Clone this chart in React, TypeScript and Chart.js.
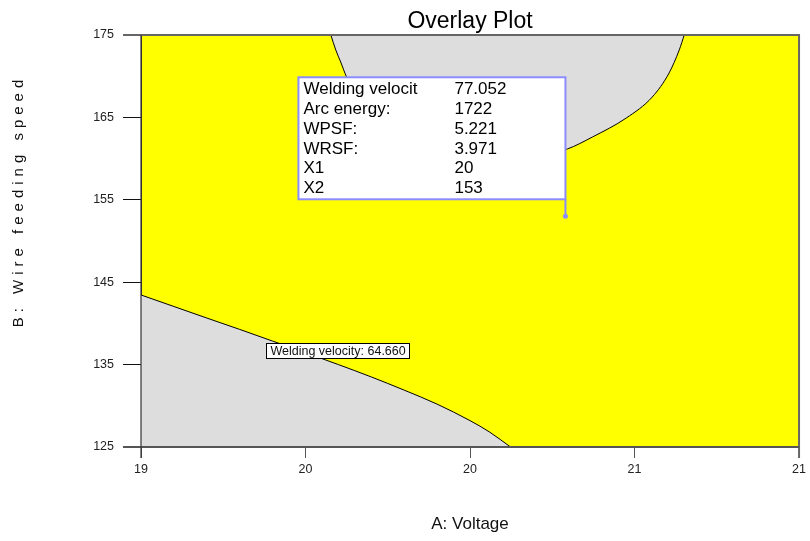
import React, { useEffect, useRef } from "react";
import { Chart, registerables } from "chart.js";

Chart.register(...registerables);

// Axis ticks (A: Voltage, B: Wire feeding speed)
const xTicks = [19, 19.5, 20, 20.5, 21];
const xTickLabels = ["19", "20", "20", "21", "21"];
const yTicks = [125, 135, 145, 155, 165, 175];

// Upper excluded region boundary (grey), filled up to the top edge
const upperEdgeX = [19.577, 19.592, 19.607, 19.625, 19.665, 19.725, 19.816, 19.937, 20.058, 20.15, 20.226, 20.296, 20.372, 20.475, 20.554, 20.605, 20.636, 20.651];
const upperEdgeY = [175.0, 173.18, 171.72, 169.9, 167.48, 165.29, 163.11, 161.41, 160.56, 160.32, 160.5, 161.17, 162.62, 164.93, 167.48, 170.39, 173.2, 175.0];

// Lower excluded region boundary: Welding velocity = 64.660 contour
const lowerEdgeX = [19.0, 19.1, 19.2, 19.3, 19.4, 19.5, 19.6, 19.7, 19.8, 19.9, 20.0, 20.06, 20.123];
const lowerEdgeY = [143.45, 142.05, 140.65, 139.27, 137.85, 136.45, 135.0, 133.5, 131.9, 130.2, 128.2, 126.8, 125.0];

const contourLabel = "Welding velocity: 64.660";
const contourLabelAt = { x: 19.599, y: 136.7 };

// Flag at the selected design point
const probe = { x: 20.29, y: 153 };
const probeNames = ["Welding velocit", "Arc energy:", "WPSF:", "WRSF:", "X1", "X2"];
const probeValues = ["77.052", "1722", "5.221", "3.971", "20", "153"];

const FONT = "'Liberation Sans', Arial, sans-serif";
const YELLOW = "#ffff00";
const GREY = "#dddddd";
const FLAG = "#8c8cff";

const toPoints = (xs: number[], ys: number[]) => xs.map((x, i) => ({ x, y: ys[i] }));

const overlayPlugin = {
  id: "overlayDecor",
  beforeDraw(chart: any) {
    const { ctx, chartArea: a } = chart;
    ctx.save();
    ctx.fillStyle = YELLOW;
    ctx.fillRect(a.left, a.top, a.right - a.left, a.bottom - a.top);
    ctx.restore();
  },
  afterDraw(chart: any) {
    const { ctx, chartArea: a, scales } = chart;
    const xs = scales.x;
    const ys = scales.y;
    ctx.save();

    // frame
    ctx.strokeStyle = "#666";
    ctx.lineWidth = 2;
    ctx.beginPath();
    ctx.moveTo(123, a.top);
    ctx.lineTo(a.right, a.top);
    ctx.lineTo(a.right, a.bottom + 11);
    ctx.stroke();
    ctx.strokeStyle = "#555";
    ctx.beginPath();
    ctx.moveTo(123, a.bottom);
    ctx.lineTo(a.right, a.bottom);
    ctx.stroke();
    ctx.strokeStyle = "#333";
    ctx.lineWidth = 1.2;
    ctx.beginPath();
    ctx.moveTo(a.left, a.top);
    ctx.lineTo(a.left, a.bottom + 11);
    ctx.stroke();

    // contour label
    const lx = xs.getPixelForValue(contourLabelAt.x);
    const ly = ys.getPixelForValue(contourLabelAt.y);
    ctx.font = `12.5px ${FONT}`;
    const tw = ctx.measureText(contourLabel).width;
    const bw = tw + 8;
    const bh = 15;
    ctx.fillStyle = "#fff";
    ctx.fillRect(lx - bw / 2, ly - bh / 2, bw, bh);
    ctx.strokeStyle = "#000";
    ctx.lineWidth = 1;
    ctx.strokeRect(Math.round(lx - bw / 2) + 0.5, Math.round(ly - bh / 2) + 0.5, Math.round(bw), bh);
    ctx.fillStyle = "#111";
    ctx.textAlign = "center";
    ctx.textBaseline = "middle";
    ctx.fillText(contourLabel, lx, ly + 0.5);

    // probe flag
    const px = xs.getPixelForValue(probe.x);
    const py = ys.getPixelForValue(probe.y);
    const boxW = 267;
    const boxH = 122;
    const boxRight = px;
    const boxBottom = py - 17;
    const boxLeft = boxRight - boxW;
    const boxTop = boxBottom - boxH;
    ctx.fillStyle = "#fff";
    ctx.fillRect(boxLeft, boxTop, boxW, boxH);
    ctx.strokeStyle = FLAG;
    ctx.lineWidth = 2;
    ctx.strokeRect(boxLeft, boxTop, boxW, boxH);
    ctx.beginPath();
    ctx.moveTo(px, boxBottom);
    ctx.lineTo(px, py);
    ctx.stroke();
    ctx.fillStyle = FLAG;
    ctx.beginPath();
    ctx.arc(px, py, 2.5, 0, Math.PI * 2);
    ctx.fill();

    ctx.font = `17px ${FONT}`;
    ctx.fillStyle = "#000";
    ctx.textAlign = "left";
    ctx.textBaseline = "middle";
    probeNames.forEach((name, i) => {
      const ty = boxTop + 12.5 + i * 19.7;
      ctx.fillText(name, boxLeft + 5, ty);
      ctx.fillText(probeValues[i], boxLeft + 156, ty);
    });

    // title
    ctx.font = `23px ${FONT}`;
    ctx.textAlign = "center";
    ctx.textBaseline = "alphabetic";
    ctx.fillStyle = "#000";
    ctx.fillText("Overlay Plot", (a.left + a.right) / 2, 28);

    // axis titles
    ctx.font = `17px ${FONT}`;
    ctx.fillStyle = "#111";
    ctx.textBaseline = "middle";
    ctx.fillText("A: Voltage", (a.left + a.right) / 2, 524);

    ctx.font = `15px ${FONT}`;
    ctx.translate(19, 201);
    ctx.rotate(-Math.PI / 2);
    (ctx as any).letterSpacing = "5px";
    ctx.fillText("B: Wire feeding speed", 0, 0);
    ctx.restore();
  },
};

export default function App() {
  const canvasRef = useRef<HTMLCanvasElement | null>(null);

  useEffect(() => {
    if (!canvasRef.current) return;
    const tickFont = { family: FONT, size: 12.5 };
    const chart = new Chart(canvasRef.current, {
      type: "line",
      data: {
        datasets: [
          {
            data: toPoints(upperEdgeX, upperEdgeY),
            borderColor: "#000",
            borderWidth: 1,
            backgroundColor: GREY,
            fill: "end",
            pointRadius: 0,
            cubicInterpolationMode: "monotone",
          },
          {
            data: toPoints(lowerEdgeX, lowerEdgeY),
            borderColor: "#000",
            borderWidth: 1,
            backgroundColor: GREY,
            fill: "start",
            pointRadius: 0,
            cubicInterpolationMode: "monotone",
          },
        ],
      },
      options: {
        responsive: false,
        animation: false,
        layout: { padding: { top: 35, right: 10, left: 0, bottom: 0 } },
        plugins: {
          legend: { display: false },
          tooltip: { enabled: false },
        },
        scales: {
          x: {
            type: "linear",
            min: 19,
            max: 21,
            afterBuildTicks: (s: any) => {
              s.ticks = xTicks.map((v) => ({ value: v }));
            },
            afterFit: (s: any) => {
              s.height = 94;
            },
            ticks: {
              callback: (_v: any, i: number) => xTickLabels[i],
              font: tickFont,
              color: "#222",
              padding: 4,
              autoSkip: false,
              maxRotation: 0,
            },
            grid: { drawOnChartArea: false, tickLength: 11, color: "#555" },
            border: { color: "#555", width: 2 },
          },
          y: {
            type: "linear",
            min: 125,
            max: 175,
            afterBuildTicks: (s: any) => {
              s.ticks = yTicks.map((v) => ({ value: v }));
            },
            afterFit: (s: any) => {
              s.width = 141;
            },
            ticks: {
              font: tickFont,
              color: "#222",
              padding: 9,
            },
            grid: { drawOnChartArea: false, tickLength: 18, color: "#111" },
            border: { color: "#333", width: 1 },
          },
        },
      },
      plugins: [overlayPlugin],
    } as any);
    return () => chart.destroy();
  }, []);

  return (
    <div style={{ position: "absolute", left: 0, top: 0, width: 810, height: 541, background: "#fff" }}>
      <canvas ref={canvasRef} width={810} height={541} style={{ display: "block" }} />
    </div>
  );
}
